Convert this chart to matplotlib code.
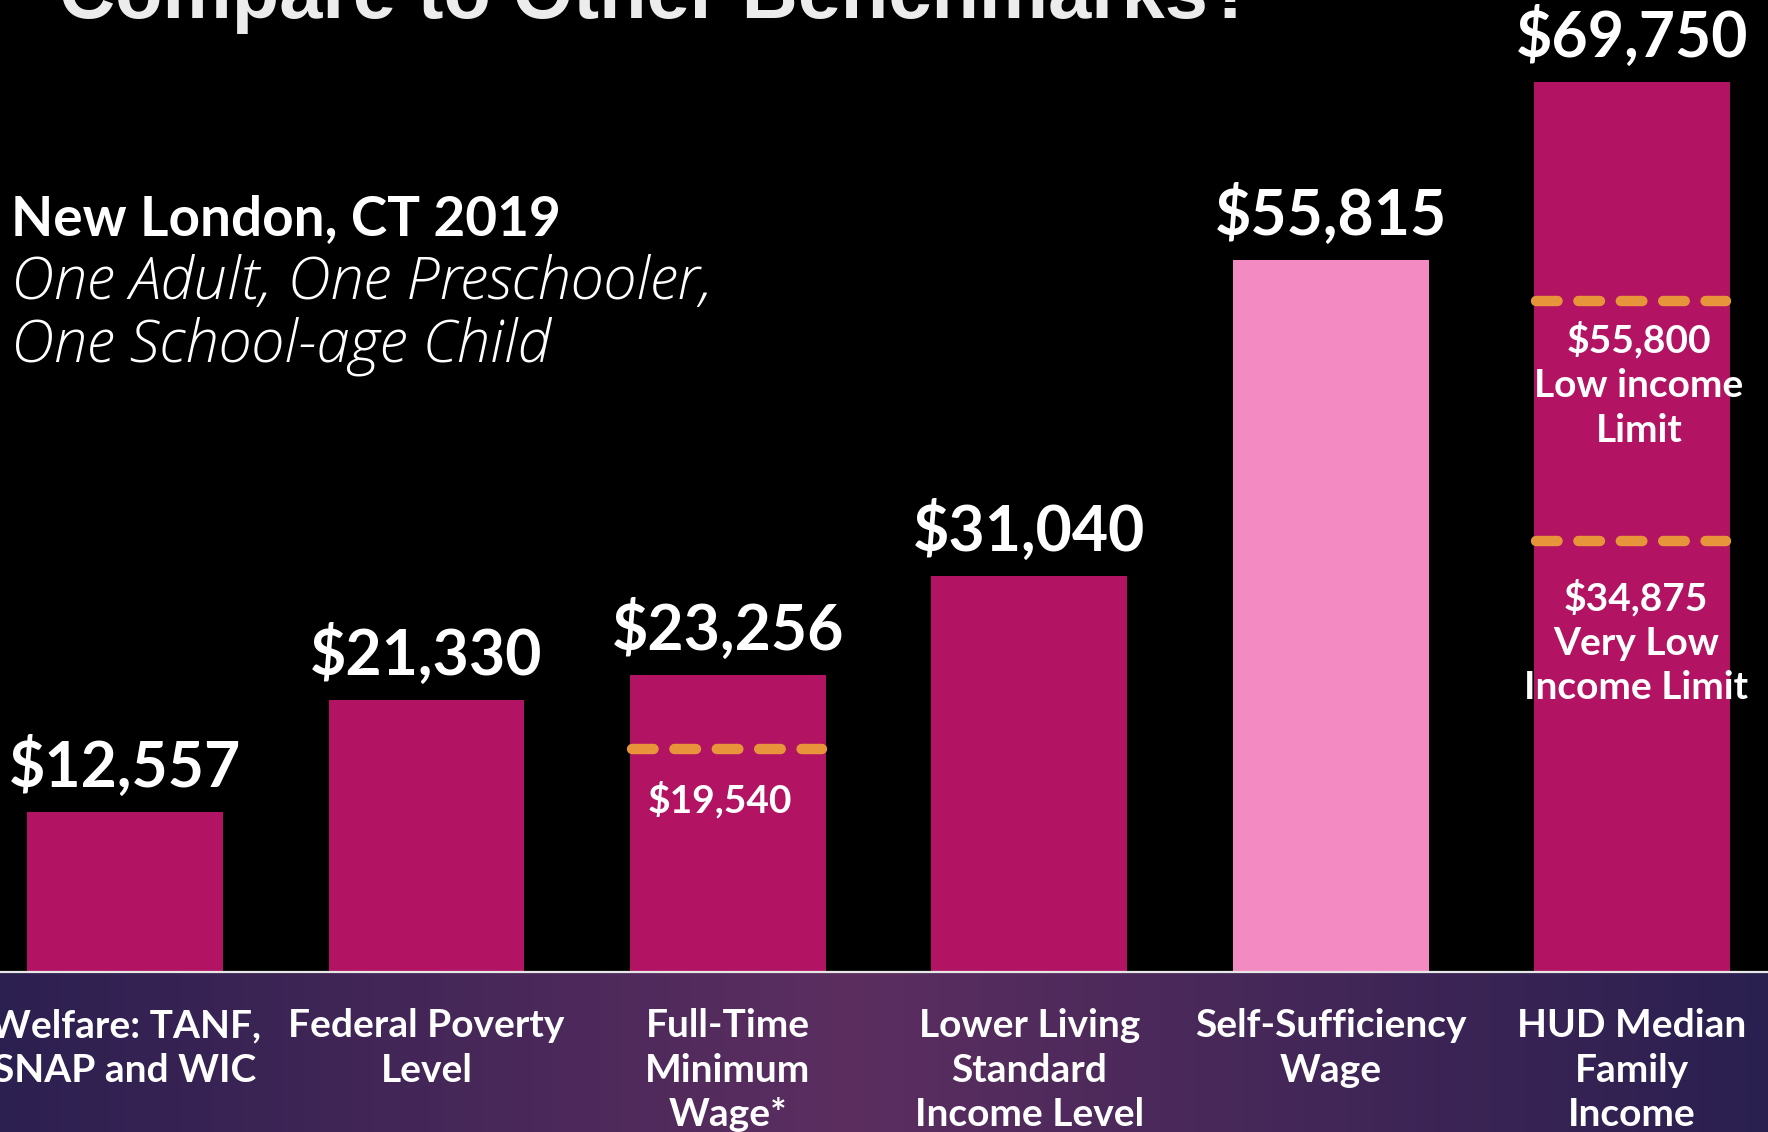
import numpy as np
import matplotlib
matplotlib.use("Agg")
import matplotlib.pyplot as plt
from matplotlib.colors import LinearSegmentedColormap

# benchmark data
categories = ["Welfare: TANF,\nSNAP and WIC", "Federal Poverty\nLevel", "Full-Time\nMinimum\nWage*",
              "Lower Living\nStandard\nIncome Level", "Self-Sufficiency\nWage", "HUD Median\nFamily\nIncome"]
values = [12557, 21330, 23256, 31040, 55815, 69750]
highlight = [False, False, False, False, True, False]

# dashed reference lines drawn inside bars (bar index, level, label)
limit_bars = [2, 5, 5]
limit_levels = [17500, 52600, 33800]
limit_labels = ["$19,540", "$55,800\nLow income\nLimit", "$34,875\nVery Low\nIncome Limit"]

MAGENTA = "#b21463"
PINK = "#f38bc2"
ORANGE = "#e8943a"

W, H = 1768, 1132
fig = plt.figure(figsize=(W / 100, H / 100), dpi=100, facecolor="black")

base = 1 - 972 / H

# bottom gradient band
band = fig.add_axes([0, 0, 1, base])
band.set_axis_off()
cmap = LinearSegmentedColormap.from_list("band", [(0, "#2c2050"), (0.48, "#5c2e60"), (1, "#2a2050")])
grad = np.linspace(0, 1, 512).reshape(1, -1)
band.imshow(grad, aspect="auto", cmap=cmap, extent=[0, 1, 0, 1])
band.set_xlim(0, 1)
band.set_ylim(0, 1)

ax = fig.add_axes([0, base, 1, 1 - base])
ax.set_facecolor("black")
x = np.arange(len(values))
colors = [PINK if h else MAGENTA for h in highlight]
ax.bar(x, values, width=0.65, color=colors, zorder=2)
ax.set_xlim(-0.415, 5.451)
ax.set_ylim(0, 76180)
for s in ["top", "right", "left"]:
    ax.spines[s].set_visible(False)
ax.spines["bottom"].set_color("#e6e6e6")
ax.spines["bottom"].set_linewidth(1.6)
ax.set_yticks([])
ax.set_xticks(x)
ax.set_xticklabels(categories, color="white", fontsize=28, fontweight="bold",
                   family="Lato", linespacing=1.33)
ax.tick_params(axis="x", length=0, pad=26)

for i, v in enumerate(values):
    ax.annotate(f"${v:,}", xy=(i, v), xytext=(0, 18), textcoords="offset points",
                ha="center", va="baseline", color="white", fontsize=45,
                fontweight="bold", family="Lato")

# orange dashed limit lines with their labels
offsets = [(-6, -37), (5, -60), (3, -73)]
for b, lvl, lab, off in zip(limit_bars, limit_levels, limit_labels, offsets):
    ax.plot([b - 0.318, b + 0.312], [lvl, lvl], color=ORANGE, linewidth=7.5,
            dashes=(2.07, 2.0), dash_capstyle="round", zorder=3)
    ax.annotate(lab, xy=(b, lvl), xytext=off, textcoords="offset points",
                ha="center", va="center", color="white", fontsize=28,
                fontweight="bold", family="Lato", linespacing=1.33, zorder=4)

# title (cut off at top in the source) and subtitle
fig.text(59 / W, 1 - 18 / H, "Compare to Other Benchmarks?", color="#ececec",
         fontsize=56, fontweight="bold", family="Liberation Sans", va="baseline")
fig.text(11 / W, 1 - 235 / H, "New London, CT 2019", color="white",
         fontsize=39.5, fontweight="bold", family="Lato", va="baseline")
fig.text(11 / W, 1 - 299 / H, "One Adult, One Preschooler,", color="white",
         fontsize=43, fontstyle="italic", fontweight="light", family="Open Sans", va="baseline")
fig.text(11 / W, 1 - 361 / H, "One School-age Child", color="white",
         fontsize=43, fontstyle="italic", fontweight="light", family="Open Sans", va="baseline")

fig.savefig("out.png", dpi=100, facecolor="black")
